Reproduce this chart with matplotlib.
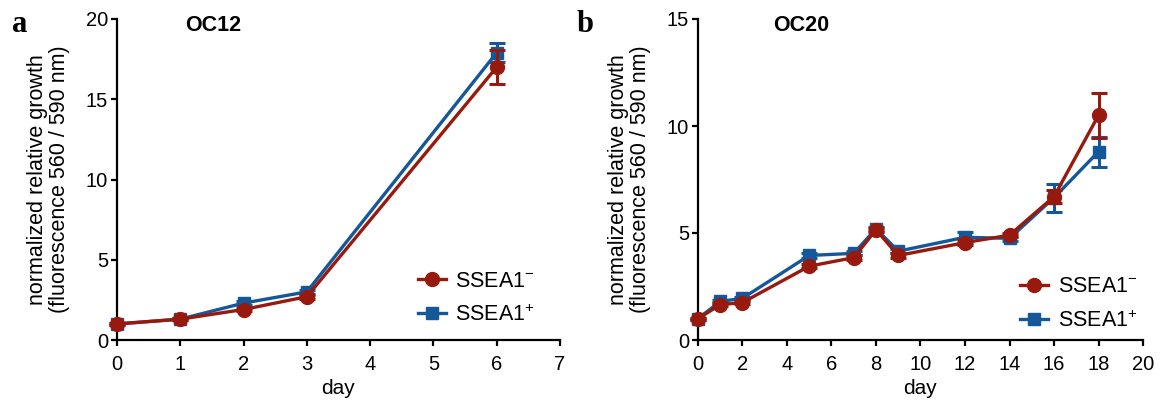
import matplotlib
matplotlib.use('Agg')
import matplotlib.pyplot as plt
from matplotlib.lines import Line2D

plt.rcParams['font.family'] = ['Liberation Sans', 'DejaVu Sans']
plt.rcParams['mathtext.fontset'] = 'custom'
plt.rcParams['mathtext.rm'] = 'Liberation Sans'
plt.rcParams['mathtext.it'] = 'Liberation Sans'

RED = '#981a0e'
BLUE = '#14589a'

# OC12
days_a = [0, 1, 2, 3, 6]
neg_a = [1.0, 1.3, 1.9, 2.7, 17.0]
neg_a_err = [0.05, 0.08, 0.1, 0.12, 1.05]
pos_a = [1.0, 1.3, 2.3, 3.0, 17.9]
pos_a_err = [0.05, 0.08, 0.1, 0.12, 0.6]

# OC20
days_b = [0, 1, 2, 5, 7, 8, 9, 12, 14, 16, 18]
neg_b = [1.0, 1.65, 1.75, 3.45, 3.85, 5.15, 3.95, 4.55, 4.9, 6.7, 10.5]
neg_b_err = [0.05, 0.08, 0.08, 0.1, 0.1, 0.1, 0.1, 0.1, 0.1, 0.3, 1.05]
pos_b = [1.0, 1.8, 1.95, 3.95, 4.05, 5.2, 4.15, 4.8, 4.75, 6.65, 8.8]
pos_b_err = [0.05, 0.08, 0.08, 0.1, 0.1, 0.1, 0.1, 0.25, 0.12, 0.65, 0.7]

labels = [r'SSEA1$^{-}$', r'SSEA1$^{+}$']

fig = plt.figure(figsize=(11.61, 4.0), dpi=100)
ax_a = fig.add_axes([0.1008, 0.15, 0.3815, 0.8025])
ax_b = fig.add_axes([0.6012, 0.15, 0.3833, 0.8025])

panels = [
    (ax_a, days_a, neg_a, neg_a_err, pos_a, pos_a_err, 'OC12', 'a', (0, 7), range(0, 8),
     (0, 20), [0, 5, 10, 15, 20], 0.217, 0.010, (0.679, 0.130)),
    (ax_b, days_b, neg_b, neg_b_err, pos_b, pos_b_err, 'OC20', 'b', (0, 20), range(0, 21, 2),
     (0, 15), [0, 5, 10, 15], 0.233, 0.497, (0.724, 0.112)),
]

for ax, d, neg, neg_err, pos, pos_err, title, lab, xl, xt, yl, yt, tx, lx, lpos in panels:
    ax.errorbar(d, pos, yerr=pos_err, color=BLUE, marker='s', markersize=9,
                lw=2.4, capsize=6, capthick=2.2, elinewidth=2.2, clip_on=False, zorder=3)
    ax.errorbar(d, neg, yerr=neg_err, color=RED, marker='o', markersize=10,
                lw=2.4, capsize=6, capthick=2.2, elinewidth=2.2, clip_on=False, zorder=4)
    ax.set_xlim(*xl)
    ax.set_ylim(*yl)
    ax.set_xticks(list(xt))
    ax.set_yticks(yt)
    ax.spines['top'].set_visible(False)
    ax.spines['right'].set_visible(False)
    ax.spines['left'].set_linewidth(1.6)
    ax.spines['bottom'].set_linewidth(1.6)
    ax.tick_params(direction='out', length=4.5, width=1.6, labelsize=14.5)
    ax.tick_params(axis='x', pad=6)
    ax.tick_params(axis='y', pad=2)
    ax.set_xlabel('day', fontsize=15, labelpad=4)
    ax.set_ylabel('normalized relative growth\n(fluorescence 560 / 590 nm)', fontsize=15.5,
                  linespacing=1.12, labelpad=11)
    ax.text(tx, 0.981, title, transform=ax.transAxes, ha='center', va='center',
            fontsize=15.5, fontweight='bold')
    fig.text(lx, 0.94, lab, ha='left', va='center', fontsize=22, fontweight='bold',
             family='Liberation Serif')
    handles = [Line2D([], [], color=RED, marker='o', markersize=10, lw=2.4),
               Line2D([], [], color=BLUE, marker='s', markersize=9, lw=2.4)]
    ax.legend(handles, labels, loc='center left', bbox_to_anchor=lpos, frameon=False,
              fontsize=15.5, handlelength=1.3, handletextpad=0.45, labelspacing=0.6,
              borderaxespad=0, borderpad=0)

fig.savefig('out.png', dpi=100)
